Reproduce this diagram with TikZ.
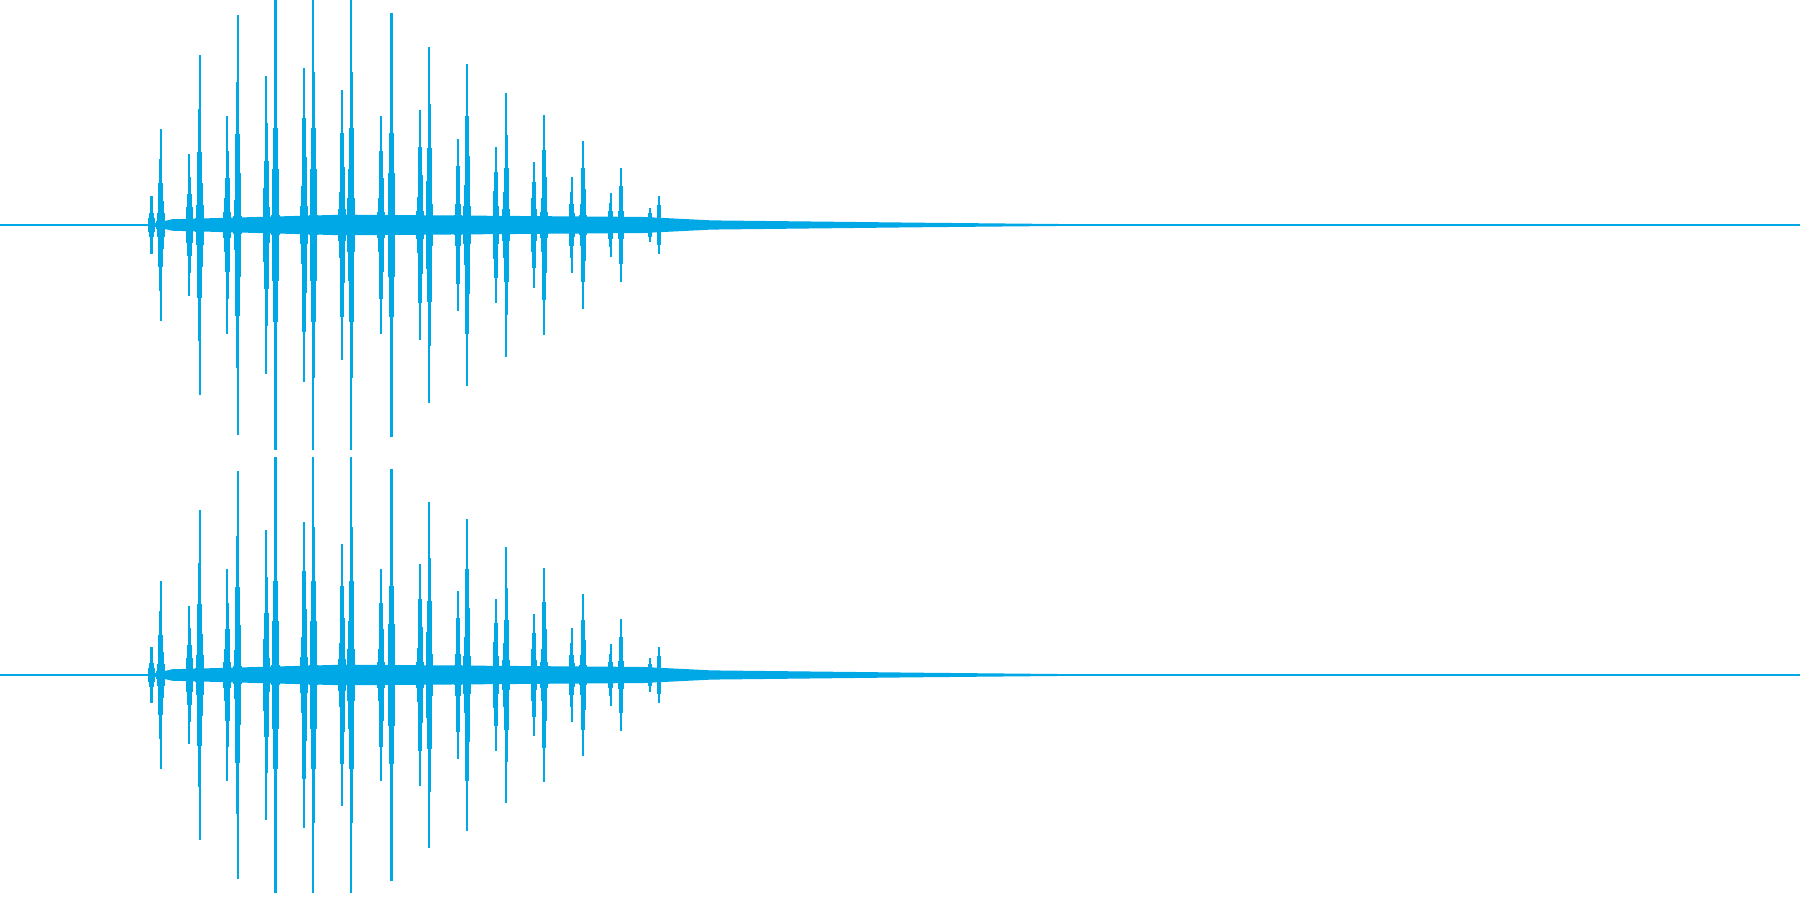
\documentclass[tikz,border=0pt]{standalone}
\definecolor{wavecolor}{HTML}{00A8E6}
\tikzset{waveline/.style={draw=wavecolor, line width=0.6pt}, wavefill/.style={fill=wavecolor}}
\begin{document}
\begin{tikzpicture}[x=0.011480cm, y=0.011480cm]%
\useasboundingbox (0,0) rectangle (1568,784);%
% two channels: centre line, noise band, bursts
\foreach \c/\s in {588/1.0, 196/0.97} {%
\draw[waveline, line width=0.4pt] (0,\c) -- (1568,\c);%
\fill[wavefill] (128,\c) -- (150,\c+5) -- (300,\c+9) -- (560,\c+7) -- (620,\c+4) -- (800,\c+2) -- (950,\c+0.6) -- (950,\c-0.6) -- (800,\c-2) -- (620,\c-4) -- (560,\c-7) -- (300,\c-9) -- (150,\c-5) -- cycle;%
\foreach \x/\a in {132/25, 140/84, 165/62, 174/148, 198/95, 207/183, 232/130, 240/196, 265/137, 273/196, 298/118, 306/196, 332/95, 341/185, 366/100, 374/155, 399/75, 407/140, 432/68, 441/115, 465/55, 474/96, 498/42, 508/73, 532/28, 541/50, 566/15, 574/25} {%
\foreach \i in {-6,...,6} {%
\pgfmathsetmacro{\h}{\s*\a*(1-abs(\i)/7)^2.5}%
\draw[waveline] (\x+\i*0.6,\c-\h) -- (\x+\i*0.6,\c+\h);%
}%
}%
}%
\end{tikzpicture}
\end{document}
